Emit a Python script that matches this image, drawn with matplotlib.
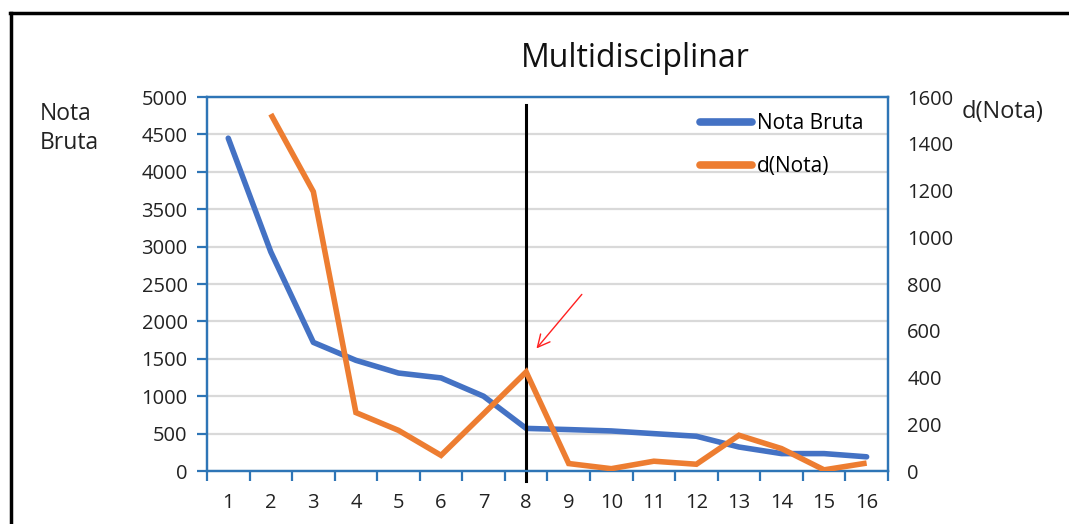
import matplotlib.pyplot as plt
import numpy as np
from matplotlib.lines import Line2D

plt.rcParams["font.family"] = ["Open Sans", "DejaVu Sans"]

categories = [str(i) for i in range(1, 17)]
nota_bruta = [4450, 2930, 1720, 1480, 1310, 1245, 1000, 570,
              554, 536, 500, 465, 321, 233, 233, 190]
d_nota = [np.nan, 1527, 1195, 250, 174, 67, 245, 424,
          32, 10, 42, 29, 153, 96, 5, 34]

blue = "#4472C4"
orange = "#ED7D31"
axis_blue = "#2E75B6"

fig = plt.figure(figsize=(10.69, 5.24), dpi=100)
ax = fig.add_axes([0.1936, 0.1011, 0.637, 0.7137])
ax2 = ax.twinx()

x = np.arange(len(categories))
ax.plot(x, nota_bruta, color=blue, lw=4, solid_joinstyle="round",
        solid_capstyle="round", label="Nota Bruta", zorder=3)
ax2.plot(x, d_nota, color=orange, lw=4, solid_joinstyle="miter",
         solid_capstyle="butt", label="d(Nota)", zorder=3)

ax.set_xlim(-0.5, 15.5)
ax.set_ylim(0, 5000)
ax2.set_ylim(0, 1600)
ax.set_yticks(np.arange(0, 5001, 500))
ax2.set_yticks(np.arange(0, 1601, 200))
ax.set_xticks(x)
ax.set_xticklabels(categories)
ax.set_xticks(np.arange(-0.5, 16, 1), minor=True)

ax.grid(axis="y", color="#D9D9D9", lw=1.6)
ax.set_axisbelow(True)

for a in (ax, ax2):
    for s in a.spines.values():
        s.set_color(axis_blue)
        s.set_linewidth(1.6)

tick_fs = 14.5
ax.tick_params(axis="x", which="major", length=0, pad=16, labelsize=tick_fs, labelcolor="#222222")
ax.tick_params(axis="x", which="minor", length=7, width=1.6, color=axis_blue, direction="out")
ax.tick_params(axis="y", length=7, width=1.6, color=axis_blue, pad=7, labelsize=tick_fs, labelcolor="#222222")
ax2.tick_params(axis="y", length=0, pad=14, labelsize=tick_fs, labelcolor="#222222")

# vertical marker at category 8
ax.plot([7, 7], [4893, -134], color="black", lw=2.2, clip_on=False, zorder=4)

# red arrow
ax.annotate("", xy=(7.2, 1610), xytext=(8.35, 2390),
            arrowprops=dict(arrowstyle="->", color="#FF2020", lw=1.0,
                            mutation_scale=22))

leg_handles = [Line2D([0], [0], color=blue, lw=5.5, solid_capstyle="round"),
               Line2D([0], [0], color=orange, lw=5.5, solid_capstyle="round")]
ax.legend(leg_handles, ["Nota Bruta", "d(Nota)"], loc="upper left",
          bbox_to_anchor=(0.697, 1.007), frameon=False, fontsize=15,
          handlelength=2.5, handletextpad=0.2, labelspacing=1.05)

fig.text(0.594, 0.889, "Multidisciplinar", fontsize=23, ha="center", va="center", color="#111111")
fig.text(0.037, 0.755, "Nota\nBruta", fontsize=16.5, ha="left", va="center",
         linespacing=1.3, color="#222222")
fig.text(0.900, 0.786, "d(Nota)", fontsize=17, ha="left", va="center", color="#222222")

# frame around the picture (open at right and bottom)
fig.add_artist(Line2D([0.0105, 0.0105], [0.0, 0.975], color="black", lw=2.5))
fig.add_artist(Line2D([0.0095, 1.0], [0.975, 0.975], color="black", lw=2.5))

fig.savefig("out.png", dpi=100)
